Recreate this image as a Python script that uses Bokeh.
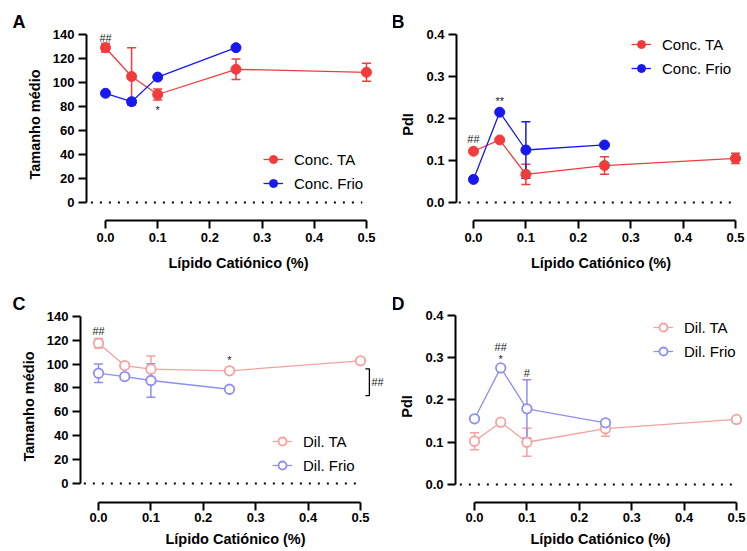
from bokeh.plotting import figure
from bokeh.models import (ColumnDataSource, Whisker, TeeHead, Legend, LegendItem,
                          FixedTicker, PrintfTickFormatter, Range1d)
from bokeh.layouts import row, column
from bokeh.embed import file_html
from bokeh.resources import INLINE
from bokeh.core.properties import value

FONT = "Liberation Sans"

# ---------------- data ----------------
LIPID_TA = [0.0, 0.05, 0.1, 0.25, 0.5]
LIPID_FRIO = [0.0, 0.05, 0.1, 0.25]
X_TICKS = [0.0, 0.1, 0.2, 0.3, 0.4, 0.5]
SIZE_TICKS = [0, 20, 40, 60, 80, 100, 120, 140]
PDI_TICKS = [0.0, 0.1, 0.2, 0.3, 0.4]

A_TA_MEAN = [129, 105, 90, 111, 108.5]
A_TA_ERR = [3.5, 24, 4.5, 8.6, 7.5]
A_FRIO_MEAN = [91, 84, 104.5, 129]
A_FRIO_ERR = [0, 1.5, 0, 0]

B_TA_MEAN = [0.122, 0.149, 0.067, 0.088, 0.105]
B_TA_ERR = [0, 0, 0.024, 0.021, 0.012]
B_FRIO_MEAN = [0.055, 0.215, 0.125, 0.137]
B_FRIO_ERR = [0, 0, 0.067, 0]

C_TA_MEAN = [117.4, 98.7, 95.7, 94.3, 102.7]
C_TA_ERR = [4, 0, 11, 0, 0]
C_FRIO_MEAN = [92.3, 89.5, 86.2, 78.9]
C_FRIO_ERR = [7.8, 0, 14, 0]

D_TA_MEAN = [0.1025, 0.1475, 0.100, 0.132, 0.154]
D_TA_ERR = [0.02, 0, 0.033, 0.018, 0]
D_FRIO_MEAN = [0.1555, 0.276, 0.179, 0.146]
D_FRIO_ERR = [0, 0, 0.069, 0]

# significance marks: text, x, y
A_MARKS = (["##", "*"], [0.0, 0.1], [137.5, 77])
B_MARKS = (["##", "**"], [0.0, 0.05], [0.152, 0.2405])
C_MARKS = (["##", "*"], [0.0, 0.25], [128, 103.2])
D_MARKS = (["##", "*", "#"], [0.05, 0.05, 0.1], [0.3266, 0.298, 0.265])

# bracket in panel C (between the two series at the right)
C_BRACKET_X = [0.5095, 0.517, 0.517, 0.5095]
C_BRACKET_Y = [96, 96, 73.6, 73.6]
C_BRACKET_TEXT = (["##"], [0.521], [84.8])

DOT_X = [-0.028, 0.492]
DOT_Y = [0, 0]

RED = "#F03C3C"
BLUE = "#1818F0"
PINK = "#F6A0A0"
LBLUE = "#8E8EF4"


def style_axis(ax, fmt):
    ax.axis_line_width = 2
    ax.axis_line_color = "black"
    ax.major_tick_line_width = 2
    ax.major_tick_line_color = "black"
    ax.major_tick_out = 8
    ax.major_tick_in = 0
    ax.minor_tick_out = 0
    ax.minor_tick_in = 0
    ax.major_label_text_font = FONT
    ax.major_label_text_font_style = "bold"
    ax.major_label_text_font_size = "13px"
    ax.major_label_text_color = "black"
    ax.axis_label_text_font = FONT
    ax.axis_label_text_font_style = "bold"
    ax.axis_label_text_font_size = "14.5px"
    ax.axis_label_text_color = "black"
    ax.formatter = PrintfTickFormatter(format=fmt)


def make_panel(letter, width, height, borders, xr, yr, ybounds, yticks, yfmt,
               ylabel, series, legend_loc, marks, letter_offset, x_std):
    left, right, top, bottom = borders
    p = figure(width=width, height=height, output_backend="svg",
               toolbar_location=None, x_range=Range1d(*xr), y_range=Range1d(*yr),
               min_border_left=left, min_border_right=right,
               min_border_top=top, min_border_bottom=bottom)
    p.grid.visible = False
    p.outline_line_color = None
    p.background_fill_color = "white"
    p.border_fill_color = "white"

    p.title.text = letter
    p.title.text_font = FONT
    p.title.text_font_style = "bold"
    p.title.text_font_size = "18px"
    p.title.text_color = "black"
    p.title.align = "left"
    p.title.offset = letter_offset
    p.title.standoff = -6

    style_axis(p.xaxis[0], "%.1f")
    style_axis(p.yaxis[0], yfmt)
    p.xaxis.ticker = FixedTicker(ticks=X_TICKS)
    p.yaxis.ticker = FixedTicker(ticks=yticks)
    p.xaxis.bounds = (0, 0.5)
    p.yaxis.bounds = ybounds
    p.xaxis.axis_label = "Lípido Catiónico (%)"
    p.yaxis.axis_label = ylabel
    p.xaxis.major_label_standoff = x_std[0]
    p.xaxis.axis_label_standoff = x_std[1]
    p.yaxis.major_label_standoff = 4
    p.yaxis.axis_label_standoff = 7

    p.line(DOT_X, DOT_Y, line_color="black", line_width=2, line_dash="2 7")

    items = []
    for label, xs, means, errs, color, filled in series:
        ex = [x for x, e in zip(xs, errs) if e > 0]
        eu = [m + e for m, e in zip(means, errs) if e > 0]
        el = [m - e for m, e in zip(means, errs) if e > 0]
        if ex:
            wsrc = ColumnDataSource(dict(x=ex, upper=eu, lower=el))
            p.add_layout(Whisker(source=wsrc, base="x", upper="upper", lower="lower",
                                 line_color=color, line_width=1.5,
                                 upper_head=TeeHead(size=9, line_color=color, line_width=1.5),
                                 lower_head=TeeHead(size=9, line_color=color, line_width=1.5)))
        src = ColumnDataSource(dict(x=xs, y=means))
        lr = p.line("x", "y", source=src, line_color=color, line_width=1.3)
        if filled:
            sr = p.scatter("x", "y", source=src, size=10, fill_color=color,
                           line_color=color, line_width=1)
        else:
            sr = p.scatter("x", "y", source=src, size=9.5, fill_color="white",
                           line_color=color, line_width=1.8)
        items.append(LegendItem(label=label, renderers=[lr, sr]))

    legend = Legend(items=items, location=legend_loc, orientation="vertical",
                    padding=0, margin=0, spacing=4, glyph_width=20, glyph_height=20,
                    label_height=20, label_standoff=11, label_text_font=FONT,
                    label_text_font_size="15px", label_text_color="black",
                    border_line_alpha=0, background_fill_alpha=0)
    p.add_layout(legend)

    texts, mx, my = marks
    msrc = ColumnDataSource(dict(x=mx, y=my, t=texts))
    p.text("x", "y", text="t", source=msrc, text_font=value(FONT),
           text_font_size="11px", text_color="#222222", text_align="center",
           text_baseline="middle")
    return p


pa = make_panel(
    "A", 393, 275, (86, 3, 28, 55), (-0.0364, 0.546), (-15, 145), (0, 140),
    SIZE_TICKS, "%d", "Tamanho médio",
    [("Conc. TA", LIPID_TA, A_TA_MEAN, A_TA_ERR, RED, True),
     ("Conc. Frio", LIPID_FRIO, A_FRIO_MEAN, A_FRIO_ERR, BLUE, True)],
    (177, 27), A_MARKS, -74, (4, 10))

pb = make_panel(
    "B", 354, 275, (63, 2, 28, 55), (-0.0324, 0.519), (-0.04286, 0.41429), (0, 0.4),
    PDI_TICKS, "%.1f", "PdI",
    [("Conc. TA", LIPID_TA, B_TA_MEAN, B_TA_ERR, RED, True),
     ("Conc. Frio", LIPID_FRIO, B_FRIO_MEAN, B_FRIO_ERR, BLUE, True)],
    (175, 142), B_MARKS, -65, (4, 10))

pc = make_panel(
    "C", 393, 276, (80, 3, 35, 49), (-0.0344, 0.5573), (-15.9, 144.8), (0, 140),
    SIZE_TICKS, "%d", "Tamanho médio",
    [("Dil. TA", LIPID_TA, C_TA_MEAN, C_TA_ERR, PINK, False),
     ("Dil. Frio", LIPID_FRIO, C_FRIO_MEAN, C_FRIO_ERR, LBLUE, False)],
    (192, 27), C_MARKS, -68, (2, 6))
pc.line(C_BRACKET_X, C_BRACKET_Y, line_color="black", line_width=1.3)
pc.text(C_BRACKET_TEXT[1], C_BRACKET_TEXT[2], text=C_BRACKET_TEXT[0],
        text_font=value(FONT), text_font_size="11px", text_color="#222222",
        text_align="left", text_baseline="middle")

pd_ = make_panel(
    "D", 354, 276, (62, 2, 35, 49), (-0.0363, 0.5172), (-0.0426, 0.4118), (0, 0.4),
    PDI_TICKS, "%.1f", "PdI",
    [("Dil. TA", LIPID_TA, D_TA_MEAN, D_TA_ERR, PINK, False),
     ("Dil. Frio", LIPID_FRIO, D_FRIO_MEAN, D_FRIO_ERR, LBLUE, False)],
    (198, 141), D_MARKS, -64, (2, 6))

layout = column(row(pa, pb), row(pc, pd_))

open("out.html", "w").write(file_html(layout, INLINE))
